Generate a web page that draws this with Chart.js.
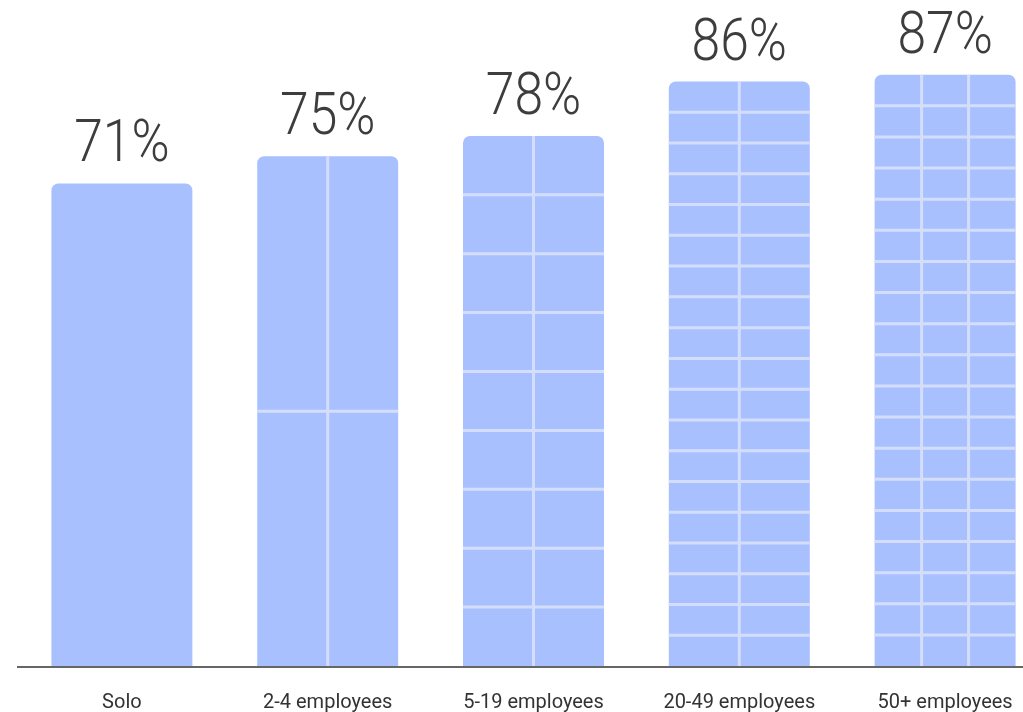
<!DOCTYPE html>
<html>
<head>
<meta charset="utf-8">
<script src="https://cdn.jsdelivr.net/npm/chart.js@4/dist/chart.umd.min.js"></script>
<style>
  html, body { margin: 0; padding: 0; background: #fff; overflow: hidden; }
  #wrap { width: 1023px; height: 712px; overflow: hidden; }
</style>
</head>
<body>
<div id="wrap"><canvas id="sizeChart" width="1050" height="712"></canvas></div>
<script>
// Share of businesses by team size
const categories = ["Solo", "2-4 employees", "5-19 employees", "20-49 employees", "50+ employees"];
const shares = [71, 75, 78, 86, 87];
// how many cells each bar is split into (columns x rows)
const gridColumns = [1, 2, 2, 2, 3];
const gridRows = [1, 2, 9, 19, 19];

const barColor = "#a8c0fe";
const cellLineColor = "#d4defc";

// Draws the cell grid inside each bar and the % label above it
const barDecor = {
    id: "barDecor",
    afterDatasetsDraw(chart) {
        const ctx = chart.ctx;
        const meta = chart.getDatasetMeta(0);
        meta.data.forEach((bar, i) => {
            const p = bar.getProps(["x", "y", "base", "width"], true);
            const left = p.x - p.width / 2;
            const top = p.y;
            const h = p.base - p.y;

            ctx.save();
            ctx.strokeStyle = cellLineColor;
            ctx.lineWidth = 3;
            ctx.beginPath();
            for (let c = 1; c < gridColumns[i]; c++) {
                const x = left + c * p.width / gridColumns[i];
                ctx.moveTo(x, top);
                ctx.lineTo(x, p.base);
            }
            for (let r = 1; r < gridRows[i]; r++) {
                const y = top + r * h / gridRows[i];
                ctx.moveTo(left, y);
                ctx.lineTo(left + p.width, y);
            }
            ctx.stroke();
            ctx.restore();

            ctx.save();
            ctx.fillStyle = "#3d3d3d";
            ctx.font = "300 60px Roboto";
            ctx.textAlign = "center";
            ctx.textBaseline = "alphabetic";
            ctx.translate(p.x, top - 22);
            ctx.scale(0.86, 1);
            ctx.fillText(shares[i] + "%", 0, 0);
            ctx.restore();
        });

        // baseline
        const yBase = chart.scales.y.getPixelForValue(0);
        ctx.save();
        ctx.strokeStyle = "#666";
        ctx.lineWidth = 2;
        ctx.beginPath();
        ctx.moveTo(17, yBase + 1);
        ctx.lineTo(chart.width, yBase + 1);
        ctx.stroke();
        ctx.restore();
    }
};

new Chart(document.getElementById("sizeChart"), {
    type: "bar",
    data: {
        labels: categories,
        datasets: [{
            data: shares,
            backgroundColor: barColor,
            borderWidth: 0,
            borderRadius: { topLeft: 7, topRight: 7, bottomLeft: 0, bottomRight: 0 },
            borderSkipped: false,
            categoryPercentage: 1,
            barPercentage: 0.685
        }]
    },
    options: {
        responsive: false,
        animation: false,
        layout: { padding: { left: 19, right: 2, top: 0, bottom: 0 } },
        plugins: {
            legend: { display: false },
            tooltip: { enabled: false }
        },
        scales: {
            x: {
                grid: { display: false, drawTicks: false },
                border: { display: false },
                afterFit(scale) { scale.height = 46; },
                ticks: {
                    color: "#333",
                    font: { family: "Roboto", size: 20 },
                    padding: 25,
                    maxRotation: 0
                }
            },
            y: {
                display: false,
                min: 0,
                max: 98
            }
        }
    },
    plugins: [barDecor]
});
</script>
</body>
</html>
